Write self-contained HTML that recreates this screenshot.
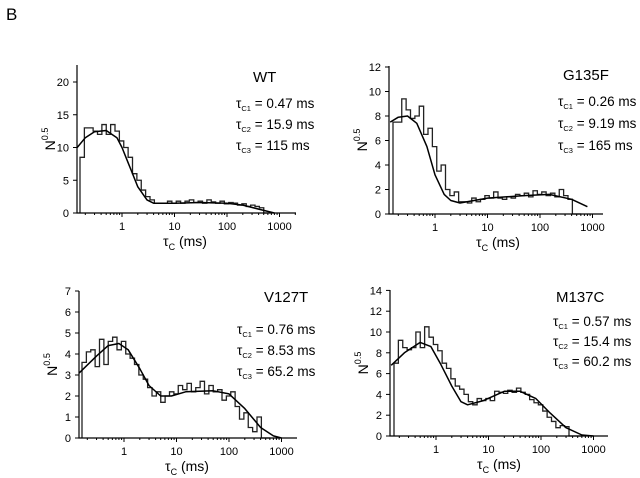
<!DOCTYPE html>
<html><head><meta charset="utf-8">
<style>
body{margin:0;background:#fff;}
svg{display:block;font-family:"Liberation Sans",Arial,sans-serif;}
</style></head>
<body>
<svg id="fig" width="640" height="478" viewBox="0 0 640 478">
<text x="6" y="20" font-size="17">B</text>
</svg>
<script>
const binStart = -0.8;
const binsPerDecade = 12;
const wtBins = [8.5,13,13,12.5,12,13.5,12,13.5,12.5,11,10,8.5,6,5,3.5,2.5,2,1.5,1.5,1.5,1.8,1.5,1.8,1.5,1.8,2,1.6,1.8,1.5,2,1.7,1.5,1.8,1.4,1.6,1.5,1.2,1.4,1,1.2,1,0.8,0];
const wtFitX = [0.14,0.2,0.3,0.5,0.8,1,1.5,2,3,4,10,30,100,200,400,800];
const wtFitY = [10,11.5,12.4,12.6,11.5,10,6.5,4,2,1.5,1.5,1.6,1.5,1.2,0.6,0];
const gBins = [7.5,7.5,9.4,8.5,7.8,8,8.8,6.5,7,5.5,3.5,4,2,1.5,1.8,1,1,0.9,1.3,1,1.2,1.5,1.3,1.8,1.3,1.2,1.4,1.3,1.6,1.5,1.7,1.4,1.9,1.6,1.8,1.5,1.7,1.4,2,1.5,1.2,0,0];
const gFitX = [0.14,0.2,0.3,0.45,0.7,1,1.5,2,3,10,50,150,400,800];
const gFitY = [7.5,7.9,8,7.4,5.5,3.2,1.6,1.1,0.9,1.3,1.5,1.6,1.2,0.6];
const vBins = [3.6,4.1,4.2,3.4,4.7,3.5,4.6,4.8,4.2,4.6,4.0,3.8,3.5,3.0,2.8,2.4,2.0,2.2,1.7,2.0,2.2,2.1,2.5,2.3,2.6,2.2,2.4,2.7,2.1,2.5,2.2,2.3,1.8,2.0,2.2,1.5,0.9,1.2,0.5,0.3,1.0,0,0];
const vFitX = [0.14,0.3,0.5,0.8,1.2,2,3,5,8,15,50,100,200,400,700,1000];
const vFitY = [3.1,3.9,4.4,4.5,4.2,3.3,2.5,2.0,2.0,2.2,2.25,2.1,1.4,0.5,0.1,0];
const mBins = [7,9.2,8.5,8.3,8.5,10,8.5,10.5,9.5,8.8,8.2,7.0,6.5,5.5,4.8,4.5,4.0,3.3,3.0,3.6,3.4,3.6,3.4,4.3,4.2,4.1,4.4,4.2,4.6,4.2,4.0,3.5,3.2,3.0,2.4,1.8,1.4,0.8,1.0,0.9,0,0,0];
const mFitX = [0.14,0.25,0.5,0.8,1.2,2,3,4,8,20,40,80,150,300,600,1000];
const mFitY = [6.8,8,9,8.6,7,4.8,3.3,3.0,3.4,4.3,4.3,3.6,2.2,0.8,0.1,0];
const xTickLabels = ["1","10","100","1000"];
const wtYTicks = [0,5,10,15,20];
const gYTicks = [0,2,4,6,8,10,12];
const vYTicks = [0,1,2,3,4,5,6,7];
const mYTicks = [0,2,4,6,8,10,12,14];

const NS="http://www.w3.org/2000/svg";
const svg=document.getElementById('fig');
function mk(tag,attrs,parent){const e=document.createElementNS(NS,tag);for(const k in attrs)e.setAttribute(k,attrs[k]);(parent||svg).appendChild(e);return e;}

function panel(o){
  const g=mk('g',{});
  
  
  const dec=52.5;
  const xs=v=>o.one+Math.log10(v)*dec;
  const xl=l=>o.one+l*dec;
  const ys=v=>o.y0-v*o.py;
  let d='M'+xl(binStart)+','+o.y0;
  o.bins.forEach((v,i)=>{const a=xl(binStart+i/binsPerDecade),b=xl(binStart+(i+1)/binsPerDecade);d+=' L'+a+','+ys(v)+' L'+b+','+ys(v);});
  d+=' L'+xl(binStart+o.bins.length/binsPerDecade)+','+o.y0;
  const h=mk('path',{d:d,fill:'none',stroke:'#222','stroke-width':1.3},g);
  
  
  let fd='';o.fx.forEach((x,i)=>{fd+=(i?' L':'M')+xs(x).toFixed(1)+','+ys(o.fy[i]).toFixed(1);});
  const f=mk('path',{d:fd,fill:'none',stroke:'#000','stroke-width':1.5,'stroke-linejoin':'round'},g);
  
  
  const ax=mk('path',{d:'M'+o.left+','+o.top+' L'+o.left+','+o.y0+' L'+o.right+','+o.y0,fill:'none',stroke:'#000','stroke-width':1.2},g);
  
  
  o.yt.forEach(t=>{
    mk('line',{x1:o.left-4,x2:o.left,y1:ys(t),y2:ys(t),stroke:'#000'},g);
    const tx=mk('text',{x:o.left-8,y:ys(t)+4,'font-size':11,'text-anchor':'end'},g);tx.textContent=t;
    
    
  });
  for(let p=-1;p<=3;p++)for(let m=1;m<10;m++){
    const x=o.one+(p+Math.log10(m))*dec;
    if(x<o.left||x>o.right)continue;
    mk('line',{x1:x,x2:x,y1:o.y0,y2:o.y0+(m==1?4:2),stroke:'#000'},g);
  }
  xTickLabels.forEach((l,i)=>{
    const tx=mk('text',{x:o.one+i*dec,y:o.y0+17,'font-size':11,'text-anchor':'middle'},g);tx.textContent=l;
    
    
  });
  const xt=mk('text',{x:o.one+dec*1.2,y:o.y0+33,'font-size':14,'text-anchor':'middle'},g);
  xt.innerHTML='τ<tspan font-size="9" dy="4">C</tspan><tspan dy="-4"> (ms)</tspan>';
  
  
  const yc=(o.top+o.y0)/2;
  const yt=mk('text',{x:0,y:0,'font-size':14,'text-anchor':'middle',transform:'translate('+(o.left-22)+','+yc+') rotate(-90)'},g);
  yt.innerHTML='N<tspan font-size="9" dy="-7">0.5</tspan>';
  
  
  const nm=mk('text',{x:o.nx,y:o.ny,'font-size':15},g);nm.textContent=o.name;
  
  
  o.taus.forEach((t,i)=>{
    const tx=mk('text',{x:o.tx,y:o.ty+i*o.tdy,'font-size':13.5},g);
    tx.innerHTML='τ<tspan font-size="7.5" dy="3">C'+(i+1)+'</tspan><tspan dy="-3"> = '+t+'</tspan>';
    
    
  });
}
panel({id:'wt',name:'WT',left:77,right:296,one:122,y0:213,py:6.55,top:65,yt:wtYTicks,bins:wtBins,fx:wtFitX,fy:wtFitY,nx:253,ny:82,tx:236,ty:108,tdy:21,taus:['0.47 ms','15.9 ms','115 ms']});
panel({id:'g135f',name:'G135F',left:389,right:603,one:435,y0:214,py:12.25,top:66,yt:gYTicks,bins:gBins,fx:gFitX,fy:gFitY,nx:563,ny:80,tx:558,ty:106,tdy:22,taus:['0.26 ms','9.19 ms','165 ms']});
panel({id:'v127t',name:'V127T',left:79,right:297,one:124,y0:438,py:21,top:291,yt:vYTicks,bins:vBins,fx:vFitX,fy:vFitY,nx:264,ny:302,tx:237,ty:334,tdy:21,taus:['0.76 ms','8.53 ms','65.2 ms']});
panel({id:'m137c',name:'M137C',left:390,right:608,one:436,y0:436,py:10.4,top:290,yt:mYTicks,bins:mBins,fx:mFitX,fy:mFitY,nx:556,ny:302,tx:553,ty:326,tdy:20,taus:['0.57 ms','15.4 ms','60.2 ms']});
</script>
</body></html>
